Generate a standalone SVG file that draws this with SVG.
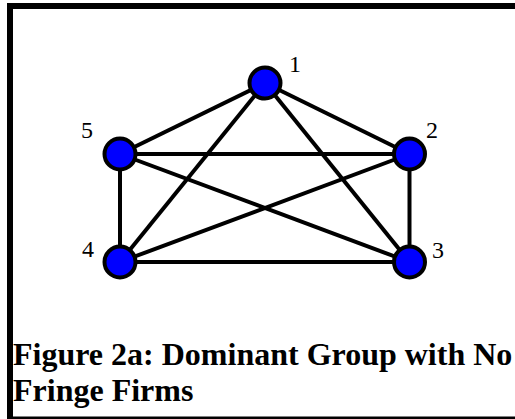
<svg xmlns="http://www.w3.org/2000/svg" width="515" height="419" viewBox="0 0 515 419">
<style>
.edge{stroke:#000;stroke-width:4;fill:none}
.node circle{fill:#0000ff;stroke:#000;stroke-width:4}
.lbl{font-family:"Liberation Serif","Times New Roman",serif;font-size:24px;fill:#000}
.cap{font-family:"Liberation Serif","Times New Roman",serif;font-size:32px;font-weight:bold;fill:#000}
.frame{fill:#000}
</style>
<rect width="515" height="419" fill="#fff"/>
<g id="frame">
<rect class="frame" x="7" y="3" width="508" height="6"/>
<rect class="frame" x="7" y="3" width="6" height="416"/>
<rect class="frame" x="7" y="416.5" width="508" height="2.5"/>
</g>
<g id="connectors">
<line class="edge" x1="265" y1="83" x2="409.5" y2="154"/>
<line class="edge" x1="265" y1="83" x2="409.5" y2="262"/>
<line class="edge" x1="265" y1="83" x2="120" y2="262"/>
<line class="edge" x1="265" y1="83" x2="120" y2="154"/>
<line class="edge" x1="409.5" y1="154" x2="409.5" y2="262"/>
<line class="edge" x1="409.5" y1="154" x2="120" y2="262"/>
<line class="edge" x1="409.5" y1="154" x2="120" y2="154"/>
<line class="edge" x1="409.5" y1="262" x2="120" y2="262"/>
<line class="edge" x1="409.5" y1="262" x2="120" y2="154"/>
<line class="edge" x1="120" y1="262" x2="120" y2="154"/>
</g>
<g id="node1" class="node"><circle cx="265" cy="83" r="15.5"/><text class="lbl" x="289" y="71.5">1</text></g>
<g id="node2" class="node"><circle cx="409.5" cy="154" r="15.5"/><text class="lbl" x="426" y="138">2</text></g>
<g id="node3" class="node"><circle cx="409.5" cy="262" r="15.5"/><text class="lbl" x="432" y="258">3</text></g>
<g id="node4" class="node"><circle cx="120" cy="262" r="15.5"/><text class="lbl" x="82" y="256.5">4</text></g>
<g id="node5" class="node"><circle cx="120" cy="154" r="15.5"/><text class="lbl" x="81" y="138">5</text></g>
<g id="caption">
<text class="cap" x="13" y="365">Figure 2a: Dominant Group with No</text>
<text class="cap" x="13" y="401">Fringe Firms</text>
</g>
</svg>
